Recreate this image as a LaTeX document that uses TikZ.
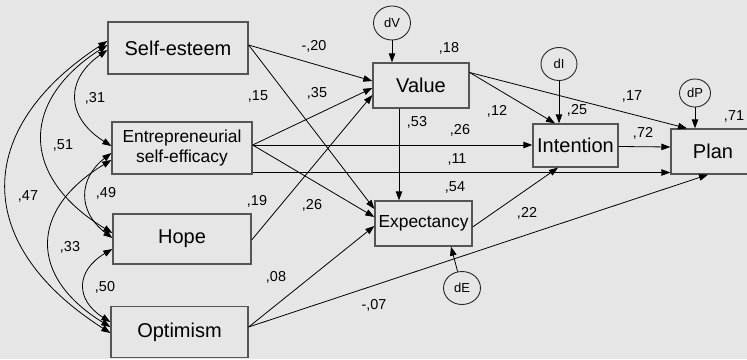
\documentclass[tikz,border=0pt]{standalone}
\usepackage{fontspec}
\setmainfont{Liberation Sans}
\usetikzlibrary{arrows.meta,calc,shapes.geometric}

\definecolor{canvas}{RGB}{230,230,230}
\definecolor{frame}{RGB}{85,85,85}

\begin{document}
\begin{tikzpicture}[x=1pt,y=-1pt,
  obs/.style={draw=frame,line width=1.3pt,fill=canvas,inner sep=0pt,align=center,
    font=\fontsize{20}{22}\selectfont},
  distnode/.style={ellipse,draw=black!85,line width=0.9pt,inner sep=0pt,
    font=\fontsize{13}{14}\selectfont},
  effect/.style={-{Triangle[length=9pt,width=6.5pt]},line width=0.8pt},
  cov/.style={{Triangle[length=9pt,width=6.5pt]}-{Triangle[length=9pt,width=6.5pt]},line width=0.8pt},
  coef/.style={font=\fontsize{14.4}{16}\selectfont,inner sep=0pt}]

% canvas
\path[fill=canvas,use as bounding box] (0,0) rectangle (747,359);

% observed variables
\node[obs,minimum width=140pt,minimum height=52pt] (se) at (178,48) {Self-esteem};
\node[obs,minimum width=140pt,minimum height=52pt,font=\fontsize{17.4}{19.5}\selectfont]
  (ese) at (182,148) {Entrepreneurial\\self-efficacy};
\node[obs,minimum width=138pt,minimum height=50pt] (hope) at (182,239) {Hope};
\node[obs,minimum width=137pt,minimum height=51pt] (opt) at (179.5,332) {Optimism};
\node[obs,minimum width=96pt,minimum height=45pt] (val) at (421,85.5) {Value};
\node[obs,minimum width=97pt,minimum height=45pt,font=\fontsize{17.4}{19.5}\selectfont]
  (exp) at (423.5,223.5) {Expectancy};
\node[obs,minimum width=85pt,minimum height=43pt] (int) at (575.5,145.5) {Intention};
\node[obs,minimum width=84pt,minimum height=45pt] (plan) at (713,151.5) {Plan};

% disturbances
\node[distnode,minimum width=37pt,minimum height=34pt] (dV) at (392,23) {dV};
\node[distnode,minimum width=36pt,minimum height=33pt] (dI) at (559,64) {dI};
\node[distnode,minimum width=31pt,minimum height=28pt] (dP) at (695,93) {dP};
\node[distnode,minimum width=37pt,minimum height=33pt] (dE) at (462,288) {dE};

% covariances among predictors
\draw[cov] ($(se.west)+(0,2)$) .. controls +(-42,29) and +(-46,-29) .. ($(ese.west)+(0,-2)$);
\draw[cov] ($(se.west)+(0,-3)$) .. controls +(-87.5,56) and +(-92.5,-56) .. ($(hope.west)+(0,-6)$);
\draw[cov] ($(se.west)+(0,-7)$) .. controls +(-135,88) and +(-138,-88) .. ($(opt.west)+(0,1)$);
\draw[cov] ($(ese.west)+(0,5)$) .. controls +(-33.5,26) and +(-34.5,-26) .. ($(hope.west)+(0,-1)$);
\draw[cov] ($(ese.west)+(0,12)$) .. controls +(-82.5,50) and +(-81.5,-50) .. ($(opt.west)+(0,-5)$);
\draw[cov] ($(hope.west)+(0,10)$) .. controls +(-37,22) and +(-35,-22) .. ($(opt.west)+(0,-10)$);

% structural paths
\draw[effect] ($(se.east)+(0,-3)$) -- ($(val.west)+(0,-4.5)$);
\draw[effect] ($(se.east)+(0,-3)$) -- ($(exp.west)+(0,-14.5)$);
\draw[effect] ($(ese.east)+(0,-3)$) -- ($(val.west)+(0,2.5)$);
\draw[effect] ($(ese.east)+(0,-3)$) -- ($(exp.west)+(0,-6.5)$);
\draw[effect] ($(ese.east)+(0,-3)$) -- ($(int.west)+(0,-0.5)$);
\draw[effect] ($(ese.east)+(0,24.5)$) -- ($(plan.west)+(0,21)$);
\draw[effect] ($(hope.east)+(0,1)$) -- ($(val.west)+(0,9.5)$);
\draw[effect] ($(opt.east)+(0,-5)$) -- ($(exp.west)+(0,2.5)$);
\draw[effect] ($(opt.east)+(0,-5)$) -- ($(plan.south)+(-5,0)$);
\draw[effect] ($(val.south)+(-22,0)$) -- ($(exp.north)+(-24.5,0)$);
\draw[effect] ($(val.east)+(0,-13)$) -- ($(int.north)+(-20.5,0)$);
\draw[effect] ($(val.east)+(0,-13)$) -- ($(plan.north)+(-26,0)$);
\draw[effect] ($(exp.east)+(0,3.5)$) -- ($(int.south)+(-17.5,0)$);
\draw[effect] ($(int.east)+(0,1)$) -- ($(plan.west)+(0,-4.5)$);

% disturbance arrows
\draw[effect] (dV.south) -- ($(val.north)+(-29,0)$);
\draw[effect] (dI.south) -- ($(int.north)+(-16.5,0)$);
\draw[effect] (dP.south) -- ($(plan.north)+(-18,0)$);
\draw[effect] (dE) -- ($(exp.south)+(27.5,0)$);

% coefficients
\node[coef] (c18) at (449,48) {,18};
\node[coef] (c20) at (314,46) {-,20};
\node[coef] (c35) at (317,93) {,35};
\node[coef] (c15) at (258,96) {,15};
\node[coef] (c53) at (417,122) {,53};
\node[coef] (c26a) at (460,130) {,26};
\node[coef] (c11) at (457,159) {,11};
\node[coef] (c12) at (497,111) {,12};
\node[coef] (c25) at (577,110) {,25};
\node[coef] (c17) at (632,96) {,17};
\node[coef] (c72) at (643,133) {,72};
\node[coef] (c71) at (734,116) {,71};
\node[coef] (c54) at (455,187) {,54};
\node[coef] (c19) at (257,201) {,19};
\node[coef] (c26b) at (312,205) {,26};
\node[coef] (c08) at (276,277) {,08};
\node[coef] (c07) at (374,305) {-,07};
\node[coef] (c22) at (527,213) {,22};
\node[coef] (c31) at (95,98) {,31};
\node[coef] (c51) at (63,145) {,51};
\node[coef] (c47) at (28,196) {,47};
\node[coef] (c49) at (106,193) {,49};
\node[coef] (c33) at (70,247) {,33};
\node[coef] (c50) at (105,287) {,50};
\end{tikzpicture}
\end{document}
